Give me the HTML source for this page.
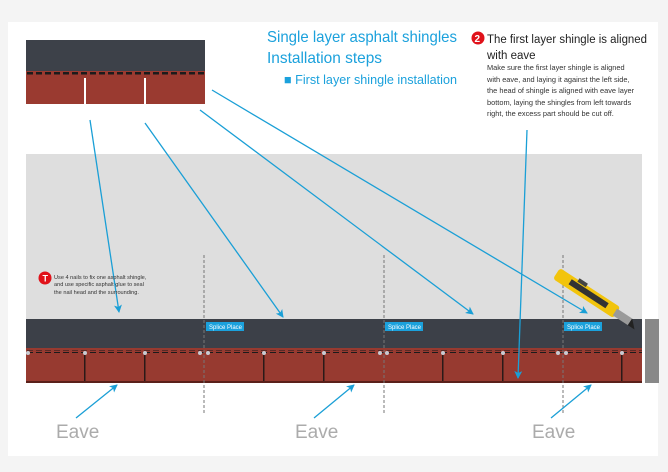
<!DOCTYPE html>
<html><head><meta charset="utf-8"><style>
html,body{margin:0;padding:0;background:#f4f4f4;}
body{width:668px;height:472px;overflow:hidden;position:relative;font-family:"Liberation Sans",sans-serif;}
</style></head><body>
<svg width="668" height="472" viewBox="0 0 668 472" xmlns="http://www.w3.org/2000/svg" style="position:absolute;left:0;top:0">
<defs>
<marker id="ah" markerWidth="8" markerHeight="8" refX="7" refY="4" orient="auto" markerUnits="userSpaceOnUse"><path d="M0,0 L8,4 L0,8 L2,4 Z" fill="#1a9fd6"/></marker>
<pattern id="dash" width="9" height="4" patternUnits="userSpaceOnUse"><rect width="6" height="2.5" fill="#1b1b1b"/></pattern>
</defs>
<rect x="8" y="22" width="650" height="434" fill="#fff"/>
<!-- top shingle -->
<rect x="26" y="40" width="179" height="32" fill="#3d4149"/>
<rect x="26" y="71" width="179" height="33" fill="#9a3a30"/>
<rect x="26" y="72" width="179" height="3" fill="url(#dash)"/>
<rect x="84" y="78" width="2" height="26" fill="#fff"/>
<rect x="144" y="78" width="2" height="26" fill="#fff"/>
<!-- gray area -->
<rect x="26" y="154" width="616" height="166" fill="#dedede"/>
<!-- strip -->
<rect x="26" y="319" width="616" height="30" fill="#3c4048"/>
<rect x="26" y="348" width="616" height="35" fill="#973a30"/>
<rect x="26" y="350" width="616" height="3" fill="url(#dash)"/>
<rect x="26" y="381" width="616" height="2" fill="#5a201a"/>
<rect x="645" y="319" width="14" height="64" fill="#888"/>
<g fill="#2a1a18">
<rect x="84" y="355" width="1.5" height="26"/><rect x="144" y="355" width="1.5" height="26"/>
<rect x="263" y="355" width="1.5" height="26"/><rect x="323" y="355" width="1.5" height="26"/>
<rect x="442" y="355" width="1.5" height="26"/><rect x="502" y="355" width="1.5" height="26"/>
<rect x="621" y="355" width="1.5" height="26"/>
</g>
<g fill="#c8cbd2">
<circle cx="28" cy="353" r="2"/><circle cx="85" cy="353" r="2"/><circle cx="145" cy="353" r="2"/><circle cx="200" cy="353" r="2"/><circle cx="208" cy="353" r="2"/><circle cx="264" cy="353" r="2"/><circle cx="324" cy="353" r="2"/>
<circle cx="380" cy="353" r="2"/><circle cx="387" cy="353" r="2"/><circle cx="443" cy="353" r="2"/><circle cx="503" cy="353" r="2"/><circle cx="558" cy="353" r="2"/><circle cx="566" cy="353" r="2"/><circle cx="622" cy="353" r="2"/>
</g>
<!-- dashed splice lines -->
<g stroke="#777" stroke-width="1" stroke-dasharray="3,2">
<line x1="204" y1="255" x2="204" y2="415"/><line x1="384" y1="255" x2="384" y2="415"/><line x1="563" y1="255" x2="563" y2="415"/>
</g>
<!-- splice labels -->
<g font-size="6" fill="#fff">
<rect x="206" y="322" width="38" height="9" fill="#1ba1dc"/><text x="209" y="329">Splice Place</text>
<rect x="385" y="322" width="38" height="9" fill="#1ba1dc"/><text x="388" y="329">Splice Place</text>
<rect x="564" y="322" width="38" height="9" fill="#1ba1dc"/><text x="567" y="329">Splice Place</text>
</g>
<!-- knife -->
<g transform="translate(560,268) rotate(33)">
<rect x="0" y="0" width="72" height="13" rx="3" fill="#f2c40c"/>
<rect x="16" y="3" width="44" height="6" fill="#333"/>
<rect x="22" y="-2" width="10" height="4" fill="#444"/>
<rect x="70" y="3" width="18" height="8" fill="#9a9a9a"/>
<polygon points="88,3 96,11 88,11" fill="#222"/>
</g>
<!-- arrows -->
<g stroke="#1a9fd6" stroke-width="1.3" fill="none" marker-end="url(#ah)">
<line x1="90" y1="120" x2="119" y2="312"/>
<line x1="145" y1="123" x2="283" y2="317"/>
<line x1="200" y1="110" x2="473" y2="314"/>
<line x1="212" y1="90" x2="587" y2="313"/>
<line x1="527" y1="130" x2="518" y2="378"/>
<line x1="76" y1="418" x2="117" y2="385"/>
<line x1="314" y1="418" x2="354" y2="385"/>
<line x1="551" y1="418" x2="591" y2="385"/>
</g>
<!-- note 1 -->
<circle cx="45" cy="278" r="6.5" fill="#e0121a"/>
<text x="42.5" y="281.5" font-size="9" font-weight="bold" fill="#fff">T</text>
<g font-size="5.6" fill="#333"><text x="54" y="279">Use 4 nails to fix one asphalt shingle,</text><text x="54" y="286">and use specific asphalt glue to seal</text><text x="54" y="294">the nail head and the surrounding.</text></g>
<!-- titles -->
<g fill="#1ba1dc">
<text x="267" y="42" font-size="16" textLength="190" lengthAdjust="spacingAndGlyphs">Single layer asphalt shingles</text>
<text x="267" y="63" font-size="16" textLength="115" lengthAdjust="spacingAndGlyphs">Installation steps</text>
<text x="284" y="84" font-size="13" textLength="173" lengthAdjust="spacingAndGlyphs">■ First layer shingle installation</text>
</g>
<circle cx="478" cy="38" r="6.5" fill="#e0121a"/>
<text x="474.5" y="42" font-size="10" font-weight="bold" fill="#fff">2</text>
<g fill="#222" font-size="11.5"><text x="487" y="43" textLength="160" lengthAdjust="spacingAndGlyphs">The first layer shingle is aligned</text><text x="487" y="59">with eave</text></g>
<g fill="#333" font-size="7.4">
<text x="487" y="70">Make sure the first layer shingle is aligned</text>
<text x="487" y="82">with eave, and laying it against the left side,</text>
<text x="487" y="93">the head of shingle is aligned with eave layer</text>
<text x="487" y="105">bottom, laying the shingles from left towards</text>
<text x="487" y="116">right, the excess part should be cut off.</text>
</g>
<g fill="#ababab" font-size="19">
<text x="56" y="438">Eave</text><text x="295" y="438">Eave</text><text x="532" y="438">Eave</text>
</g>
</svg>
</body></html>
